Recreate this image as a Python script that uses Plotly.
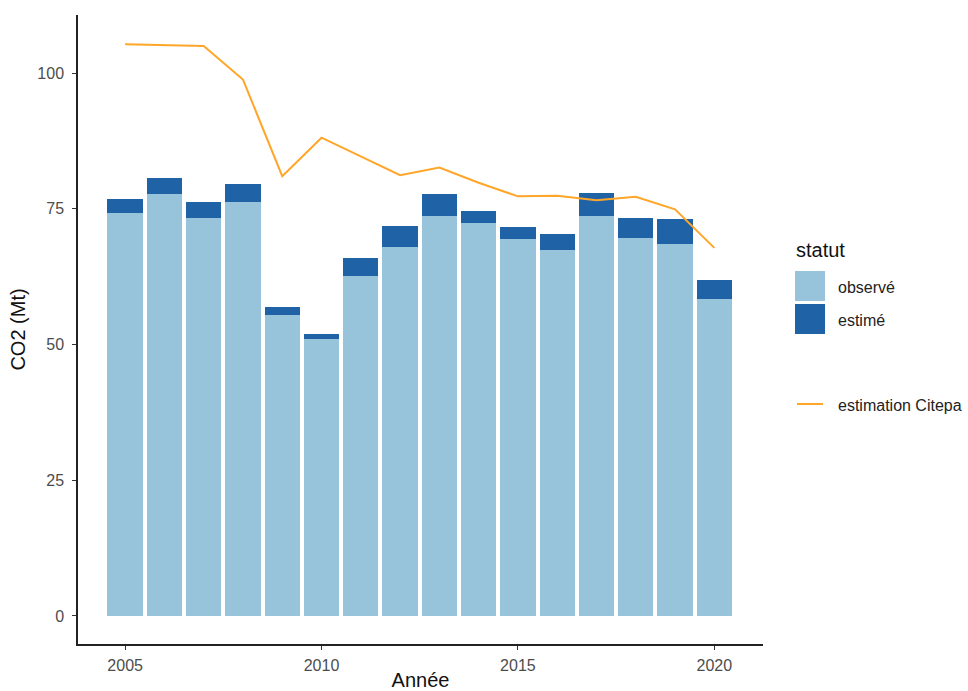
import plotly.graph_objects as go

# Émissions annuelles de CO2 (Mt)
annees = [2005, 2006, 2007, 2008, 2009, 2010, 2011, 2012, 2013, 2014, 2015, 2016, 2017, 2018, 2019, 2020]
observe = [74.3, 77.8, 73.3, 76.2, 55.4, 51.1, 62.7, 68.0, 73.7, 72.3, 69.4, 67.5, 73.7, 69.6, 68.5, 58.3]
total = [76.9, 80.6, 76.2, 79.6, 57.0, 51.9, 65.9, 71.9, 77.8, 74.6, 71.7, 70.3, 78.0, 73.3, 73.1, 61.9]
estime = [round(t - o, 2) for t, o in zip(total, observe)]
citepa = [105.3, 105.2, 105.0, 98.8, 81.0, 88.1, 84.6, 81.2, 82.6, 79.8, 77.3, 77.4, 76.6, 77.2, 74.9, 67.8]

C_OBS = "#97C3DB"
C_EST = "#1F63A6"
C_LINE = "#FFA629"
FONT = "Liberation Sans, Arial, sans-serif"

W, H = 968, 691
ML, MR, MT, MB = 78, 205, 15, 47

fig = go.Figure()
fig.add_trace(go.Bar(x=annees, y=observe, name="observé", marker=dict(color=C_OBS, line=dict(width=0)),
                     width=0.9, showlegend=False))
fig.add_trace(go.Bar(x=annees, y=estime, name="estimé", marker=dict(color=C_EST, line=dict(width=0)),
                     width=0.9, showlegend=False))
fig.add_trace(go.Scatter(x=annees, y=citepa, mode="lines", name="estimation Citepa",
                         line=dict(color=C_LINE, width=2), showlegend=False))

axis_common = dict(showline=True, linecolor="#222222", linewidth=1.5, showgrid=False, zeroline=False,
                   automargin=False,
                   ticks="outside", ticklen=4, tickcolor="#333333", tickwidth=1,
                   tickfont=dict(size=16, color="#4D4D4D"))

fig.update_layout(
    barmode="stack",
    width=W, height=H,
    margin=dict(l=ML, r=MR, t=MT, b=MB),
    plot_bgcolor="white", paper_bgcolor="white",
    font=dict(family=FONT, color="#4D4D4D", size=16),
    xaxis=dict(range=[2003.80, 2021.24], tickvals=[2005, 2010, 2015, 2020], ticklabelstandoff=2,
               title=dict(text="Année", font=dict(size=20, color="#111111"), standoff=4),
               **axis_common),
    yaxis=dict(range=[-5.16, 110.7], tickvals=[0, 25, 50, 75, 100], ticklabelstandoff=5,
               title=dict(text="CO2 (Mt)", font=dict(size=20, color="#111111"), standoff=6),
               **axis_common),
)

# Légende dessinée à droite du panneau (positions en pixels convertis en coordonnées "paper")
PW, PH = W - ML - MR, H - MT - MB


def px_x(p):
    return (p - ML) / PW


def px_y(p):
    return (H - MB - p) / PH


shapes = [
    dict(type="rect", x0=px_x(795), x1=px_x(825), y0=px_y(301), y1=px_y(271),
         fillcolor=C_OBS, line=dict(width=0)),
    dict(type="rect", x0=px_x(795), x1=px_x(825), y0=px_y(334), y1=px_y(304),
         fillcolor=C_EST, line=dict(width=0)),
    dict(type="line", x0=px_x(797), x1=px_x(823), y0=px_y(404), y1=px_y(404),
         line=dict(color=C_LINE, width=2)),
]
for s in shapes:
    s.update(xref="paper", yref="paper")

annotations = [
    dict(text="statut", x=px_x(794), y=px_y(250), font=dict(size=20, color="#111111")),
    dict(text="observé", x=px_x(836), y=px_y(287), font=dict(size=16, color="#222222")),
    dict(text="estimé", x=px_x(836), y=px_y(320), font=dict(size=16, color="#222222")),
    dict(text="estimation Citepa", x=px_x(836), y=px_y(405), font=dict(size=16, color="#222222")),
]
for a in annotations:
    a.update(xref="paper", yref="paper", showarrow=False, xanchor="left", yanchor="middle")
fig.update_layout(shapes=shapes, annotations=annotations)

fig.write_html("out.html")
